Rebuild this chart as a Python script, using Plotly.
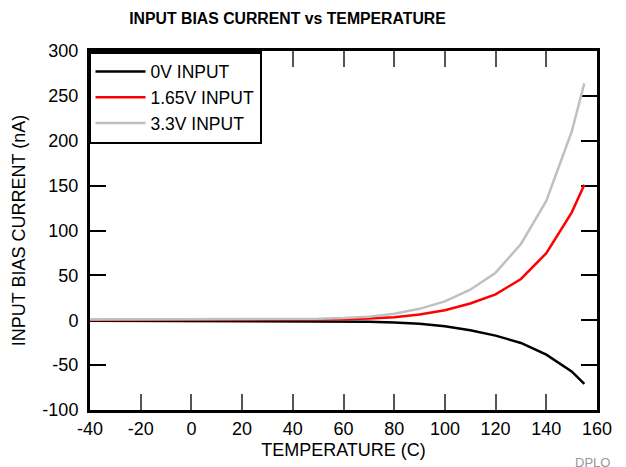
import plotly.graph_objects as go

temperature = [-40, -30, -20, -10, 0, 10, 20, 30, 40, 50, 60, 70, 80, 90, 100, 110, 120, 130, 140, 150, 155]
bias_0v = [-0.5, -0.6, -0.7, -0.7, -0.8, -0.8, -0.8, -0.8, -0.9, -1.0, -1.2, -1.6, -2.5, -4.0, -6.7, -11.2, -17.1, -25.3, -38.4, -57, -71]
bias_165v = [0.3, 0.3, 0.3, 0.3, 0.3, 0.3, 0.3, 0.4, 0.5, 0.7, 1.1, 1.9, 3.4, 6.3, 11.2, 18.7, 28.8, 46, 74.7, 120, 151]
bias_33v = [0.8, 0.8, 0.8, 0.8, 0.8, 0.8, 0.9, 1.0, 1.2, 1.6, 2.4, 4.0, 7.2, 12.7, 21, 34, 53, 85, 133, 210, 264]

series_names = ["0V INPUT", "1.65V INPUT", "3.3V INPUT"]
x_ticks = [-40, -20, 0, 20, 40, 60, 80, 100, 120, 140, 160]
y_ticks = [-100, -50, 0, 50, 100, 150, 200, 250, 300]

FONT = "Liberation Sans, Arial, Helvetica, sans-serif"

# The page body has an 8px margin, so the figure is drawn 8px in and 8px down.
W, H = 618, 459
L, R, T, B = 82, 29, 43, 57
PW, PH = W - L - R, H - T - B

fig = go.Figure()
for name, vals, col in [(series_names[0], bias_0v, "#000000"),
                        (series_names[1], bias_165v, "#ff0000"),
                        (series_names[2], bias_33v, "#c0c0c0")]:
    fig.add_trace(go.Scatter(x=temperature, y=vals, mode="lines", name=name,
                             line=dict(color=col, width=2.5)))

fig.update_layout(
    width=W, height=H,
    margin=dict(l=L, r=R, t=T, b=B, autoexpand=False),
    paper_bgcolor="white", plot_bgcolor="rgba(0,0,0,0)",
    font=dict(family=FONT, size=18, color="black"),
    title=dict(text="<b>INPUT BIAS CURRENT vs TEMPERATURE</b>",
               font=dict(family=FONT, size=15.8, color="black"),
               x=279.5 / W, xanchor="center", y=1 - 10 / H, yanchor="middle"),
    legend=dict(x=-2 / PW, y=1, xanchor="left", yanchor="top",
                bgcolor="white", bordercolor="black", borderwidth=2.5,
                font=dict(family=FONT, size=17.5, color="black"),
                itemwidth=50, tracegroupgap=0),
    xaxis=dict(range=[-40, 160], tickvals=x_ticks, ticktext=[str(v) for v in x_ticks],
               ticks="inside", ticklen=16, tickwidth=2, tickcolor="#555555",
               showline=True, linecolor="black", linewidth=3, mirror="allticks",
               showgrid=False, zeroline=False, automargin=False, layer="below traces",
               tickfont=dict(size=18),
               title=dict(text="TEMPERATURE (C)", font=dict(size=18), standoff=6)),
    yaxis=dict(range=[-100, 300], tickvals=y_ticks, ticktext=[str(v) + " " for v in y_ticks],
               ticks="inside", ticklen=16, tickwidth=2, tickcolor="black",
               showline=True, linecolor="black", linewidth=3, mirror="allticks",
               showgrid=False, zeroline=False, automargin=False, layer="below traces",
               tickfont=dict(size=18),
               title=dict(text="INPUT BIAS CURRENT (nA)", font=dict(size=18), standoff=13)),
    annotations=[dict(text="DPLO", xref="paper", yref="paper",
                      x=(604 - L) / PW, y=-(454 - (H - B)) / PH, xanchor="right", yanchor="middle",
                      showarrow=False, font=dict(family=FONT, size=13, color="#999999"))],
)

fig.write_html("out.html")
